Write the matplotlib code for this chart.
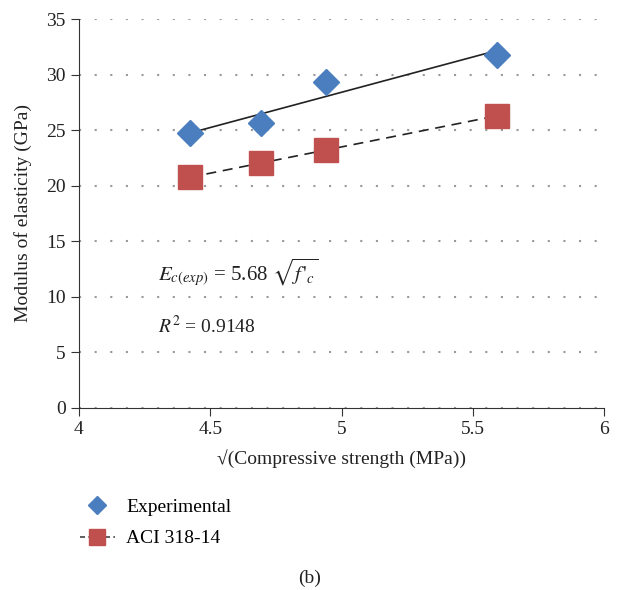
import numpy as np
import matplotlib.pyplot as plt
from matplotlib.lines import Line2D

plt.rcParams['font.family'] = ['Liberation Serif', 'DejaVu Serif']
plt.rcParams['mathtext.fontset'] = 'stix'

# raiz da resistencia a compressao vs modulo de elasticidade
raiz_fc = [4.423, 4.693, 4.941, 5.592]
ec_exp = [24.7, 25.6, 29.3, 31.8]
ec_aci = [20.8, 22.0, 23.2, 26.3]

AZUL = '#4a7ebf'
VERMELHO = '#c0504d'

fig = plt.figure(figsize=(6.19, 5.9), dpi=100)
ax = fig.add_axes([79/619, 1 - 408/590, 525/619, 389/590])

# linhas de tendencia
x = np.array(raiz_fc)
p_exp = np.polyfit(x, ec_exp, 1)
p_aci = np.polyfit(x, ec_aci, 1)
xs = np.array([x.min(), x.max()])
ax.plot(xs, np.polyval(p_exp, xs), color='#222222', lw=1.2, zorder=3)
ax.plot(xs, np.polyval(p_aci, xs), color='#222222', lw=1.2, ls=(0, (6, 4)), zorder=3)

ax.plot(raiz_fc, ec_exp, 'D', color=AZUL, markersize=13, zorder=4)
ax.plot(raiz_fc, ec_aci, 's', color=VERMELHO, markersize=17, zorder=4)

ax.set_xlim(4, 6)
ax.set_ylim(0, 35)
ax.set_xticks([4, 4.5, 5, 5.5, 6])
ax.set_xticklabels(['4', '4.5', '5', '5.5', '6'])
ax.set_yticks(range(0, 36, 5))
ax.yaxis.grid(True, ls=(0, (1, 6.5)), color='#999999', lw=1.5)
ax.set_axisbelow(True)
for s in ['top', 'right']:
    ax.spines[s].set_visible(False)
ax.spines['left'].set_color('#333333')
ax.spines['bottom'].set_color('#333333')
ax.tick_params(direction='out', length=6, color='#333333', labelsize=14, labelcolor='#222222')

ax.set_xlabel('√(Compressive strength (MPa))', fontsize=14, color='#222222', labelpad=8)
ax.set_ylabel('Modulus of elasticity (GPa)', fontsize=14, color='#222222', labelpad=10)

ax.text(4.3, 12.2, r"$E_{c(exp)}$ = 5.68 $\sqrt{f\,'_c}$", fontsize=15, color='#222222', va='center')
ax.text(4.3, 7.4, r"$R^2$ = 0.9148", fontsize=14, color='#222222', va='center')

handles = [
    Line2D([], [], marker='D', color=AZUL, ls='none', markersize=9),
    Line2D([], [], marker='s', color='#444444', markersize=11,
           mfc=VERMELHO, mec=VERMELHO, ls=(0, (3, 2)), lw=1.2),
]
fig.legend(handles, ['Experimental', 'ACI 318-14'], loc='upper left',
           bbox_to_anchor=(62/619, 1 - 481/590), frameon=False,
           fontsize=14, handlelength=1.8, handletextpad=0.6, labelspacing=0.7)

fig.text(310/619, 1 - 578/590, '(b)', fontsize=14, ha='center', va='center', color='#222222')

fig.savefig('out.png', dpi=100)
